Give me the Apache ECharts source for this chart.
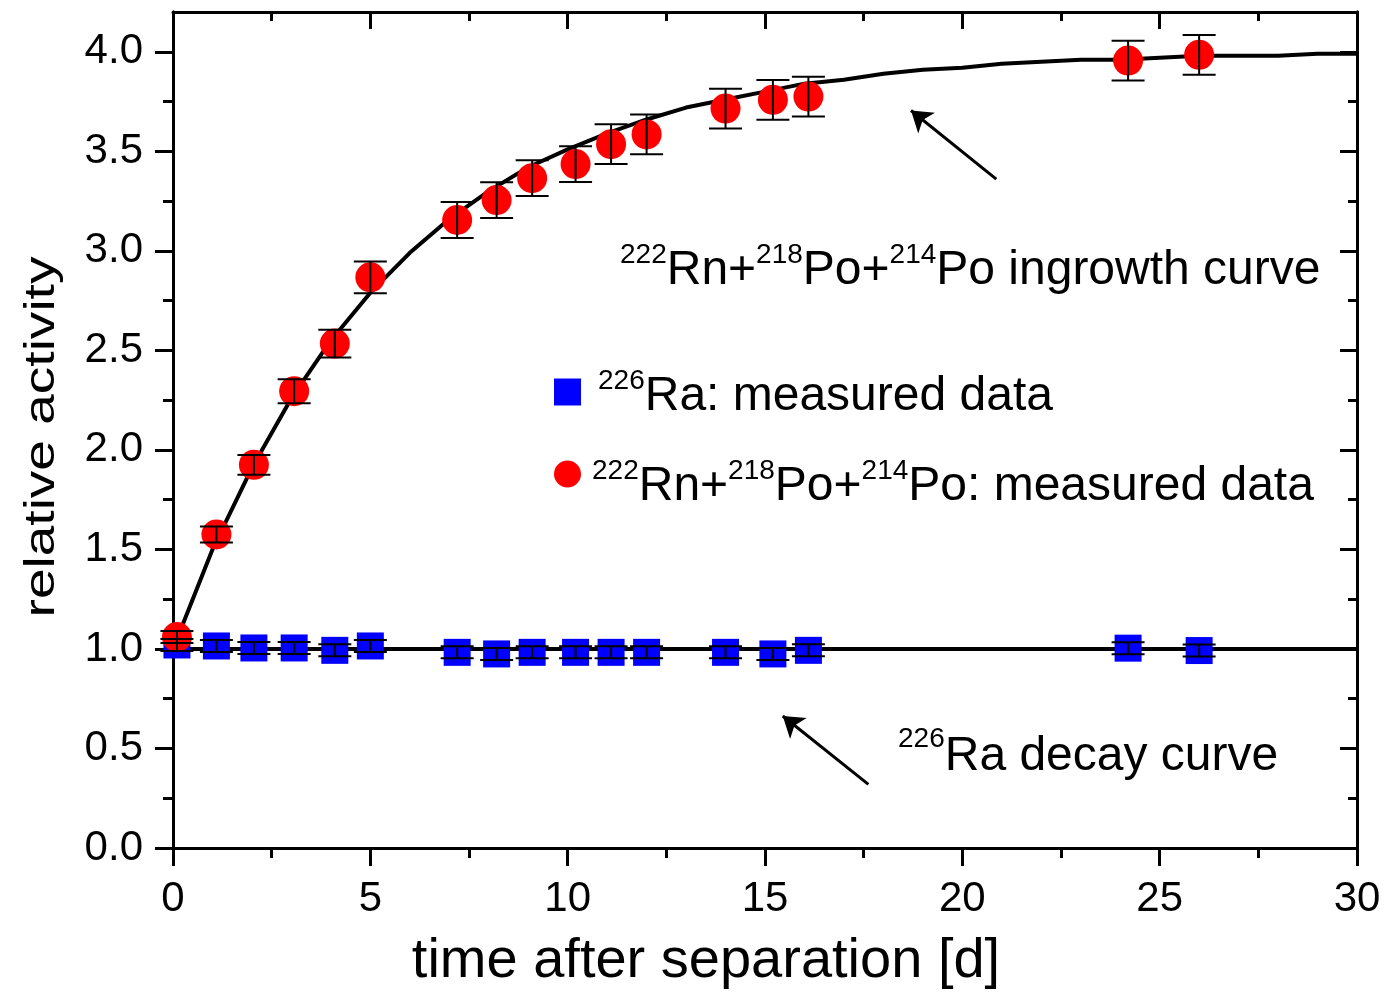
<!DOCTYPE html>
<html><head><meta charset="utf-8">
<script src="https://cdn.jsdelivr.net/npm/echarts@6/dist/echarts.min.js"></script>
<style>html,body{margin:0;padding:0;background:#fff}#c{width:1386px;height:995px}</style>
</head><body><div id="c"></div><script>
// ---- data ----
const times = [0.1, 1.1, 2.05, 3.07, 4.1, 5.0, 7.2, 8.2, 9.1, 10.2, 11.1, 12.0, 14.0, 15.2, 16.1, 24.2, 26.0];
const raValues = [1.02, 1.015, 1.005, 1.005, 0.993, 1.015, 0.983, 0.975, 0.983, 0.983, 0.983, 0.983, 0.983, 0.975, 0.993, 1.004, 0.992];
const raErrors = [0.03, 0.03, 0.03, 0.03, 0.03, 0.03, 0.03, 0.03, 0.03, 0.03, 0.03, 0.03, 0.03, 0.03, 0.03, 0.03, 0.03];
const rnValues = [1.06, 1.575, 1.925, 2.295, 2.534, 2.867, 3.155, 3.255, 3.365, 3.436, 3.536, 3.585, 3.715, 3.759, 3.775, 3.956, 3.985];
const rnErrors = [0.03, 0.04, 0.05, 0.06, 0.07, 0.08, 0.09, 0.09, 0.09, 0.09, 0.10, 0.10, 0.10, 0.10, 0.10, 0.10, 0.10];
const fitTimes = [0,1,2,3,4,5,6,7,8,9,10,11,12,13,14,15,16,17,18,19,20,21,22,23,24,25,26,27,28,29,30];
const ingrowthFit = [1.00,1.50,1.91,2.26,2.55,2.79,2.99,3.16,3.30,3.42,3.51,3.59,3.66,3.72,3.76,3.80,3.84,3.86,3.89,3.91,3.92,3.94,3.95,3.96,3.96,3.97,3.98,3.98,3.98,3.99,3.99];
const decayTimes = [0, 30];
const decayFit = [1.0, 1.0];
const xTickLabels = ['0','5','10','15','20','25','30'];
const yTickLabels = ['0.0','0.5','1.0','1.5','2.0','2.5','3.0','3.5','4.0'];
const yMajorTicks = [0, 0.5, 1, 1.5, 2, 2.5, 3, 3.5, 4];
const yMinorTicks = [0.25, 0.75, 1.25, 1.75, 2.25, 2.75, 3.25, 3.75];
// arrow annotations [from, to] in data units
const arrowIngrowth = [[20.86, 3.36], [18.70, 3.705]];
const arrowDecay = [[17.62, 0.32], [15.45, 0.663]];

const raName = '226Ra: measured data';
const rnName = '222Rn+218Po+214Po: measured data';
const FONT = '"Liberation Sans", Arial, sans-serif';

const chart = echarts.init(document.getElementById('c'), null, {renderer: 'canvas'});

function errorBars(values, errors, name) {
  return {
    type: 'custom', name: name, silent: true, z: 5,
    data: times.map((t, i) => [t, values[i] - errors[i], values[i] + errors[i]]),
    encode: {x: 0, y: [1, 2]},
    renderItem: function (params, api) {
      const x = api.value(0);
      const lo = api.coord([x, api.value(1)]);
      const hi = api.coord([x, api.value(2)]);
      const hw = 16.5;
      const st = {stroke: '#000', lineWidth: 2};
      return {type: 'group', children: [
        {type: 'line', shape: {x1: lo[0], y1: lo[1], x2: hi[0], y2: hi[1]}, style: st},
        {type: 'line', shape: {x1: lo[0] - hw, y1: lo[1], x2: lo[0] + hw, y2: lo[1]}, style: st},
        {type: 'line', shape: {x1: hi[0] - hw, y1: hi[1], x2: hi[0] + hw, y2: hi[1]}, style: st}
      ]};
    }
  };
}

function tickLabel(labels, step) {
  return function (v) {
    const k = v / step;
    if (Math.abs(k - Math.round(k)) > 1e-6) return '';
    return labels[Math.round(k)] || '';
  };
}

function legendRich(supLeft) {
  return {
    m: {fontFamily: FONT, fontSize: 48, lineHeight: 60, color: '#000'},
    sup: {fontFamily: FONT, fontSize: 28, lineHeight: 28, verticalAlign: 'top', color: '#000'},
    sup0: {fontFamily: FONT, fontSize: 28, lineHeight: 28, verticalAlign: 'top', color: '#000', padding: [0, 0, 0, supLeft]}
  };
}
const richMain = {
  m: {fontFamily: FONT, fontSize: 48, lineHeight: 60, color: '#000'},
  sup: {fontFamily: FONT, fontSize: 28, lineHeight: 28, verticalAlign: 'top', color: '#000'}
};
const rich66 = {
  m: {fontFamily: FONT, fontSize: 48, lineHeight: 64, color: '#000'},
  sup: {fontFamily: FONT, fontSize: 28, lineHeight: 28, verticalAlign: 'top', color: '#000'}
};

const axisCommonX = {type: 'value', min: 0, max: 30, interval: 5};
const axisCommonY = {type: 'value', min: 0, max: 4.2, interval: 0.5};
const lineSt = {color: '#000', width: 3};

function yAxisDef(position, inside, values, len, showLabel) {
  return Object.assign({}, axisCommonY, {
    position: position,
    axisLine: {show: true, lineStyle: lineSt, onZero: false},
    axisTick: {show: true, inside: inside, length: len, lineStyle: lineSt, customValues: values},
    minorTick: {show: false},
    axisLabel: showLabel
      ? {show: true, margin: 30, fontFamily: FONT, fontSize: 42, color: '#000',
         customValues: values, formatter: tickLabel(yTickLabels, 0.5)}
      : {show: false},
    splitLine: {show: false}
  });
}

function legendRow(name, icon, text, top, shift, supLeft) {
  return {
    orient: 'vertical', left: 554, top: top, padding: 0,
    itemWidth: 27, itemHeight: 27, selectedMode: false,
    data: [{name: name, icon: icon}],
    formatter: function () { return text; },
    textStyle: {rich: legendRich(supLeft), padding: [shift, 0, 0, 0]}
  };
}

const option = {
  animation: false,
  backgroundColor: '#fff',
  grid: {left: 173, right: 29, top: 12, bottom: 147, containLabel: false},
  xAxis: [
    Object.assign({}, axisCommonX, {
      position: 'bottom',
      name: 'time after separation [d]', nameLocation: 'middle', nameGap: 86,
      nameTextStyle: {fontFamily: FONT, fontSize: 56, color: '#000', padding: [0, 118, 0, 0]},
      axisLine: {lineStyle: lineSt, onZero: false},
      axisTick: {inside: false, length: 18, lineStyle: lineSt},
      minorTick: {show: true, splitNumber: 2, length: 10, lineStyle: lineSt},
      axisLabel: {margin: 30, fontFamily: FONT, fontSize: 42, color: '#000',
        formatter: tickLabel(xTickLabels, 5)},
      splitLine: {show: false}
    }),
    Object.assign({}, axisCommonX, {
      position: 'top',
      axisLine: {lineStyle: lineSt, onZero: false},
      axisTick: {inside: true, length: 17, lineStyle: lineSt},
      minorTick: {show: true, splitNumber: 2, length: 9, lineStyle: lineSt},
      axisLabel: {show: false},
      splitLine: {show: false}
    })
  ],
  yAxis: [
    yAxisDef('left', false, yMajorTicks, 18, true),
    yAxisDef('right', true, yMajorTicks, 17, false),
    yAxisDef('left', false, yMinorTicks, 10, false),
    yAxisDef('right', true, yMinorTicks, 9, false)
  ],
  legend: [
    legendRow(raName, 'rect', '{sup0|226}{m|Ra: measured data}', 367, 10, 12),
    legendRow(rnName, 'circle', '{sup0|222}{m|Rn+}{sup|218}{m|Po+}{sup|214}{m|Po: measured data}', 457, 26, 6)
  ],
  graphic: [
    {type: 'text', x: 620, y: 241, silent: true,
      style: {text: '{sup|222}{m|Rn+}{sup|218}{m|Po+}{sup|214}{m|Po ingrowth curve}',
        rich: richMain, align: 'left', verticalAlign: 'top'}},
    {type: 'text', x: 898, y: 725, silent: true,
      style: {text: '{sup|226}{m|Ra decay curve}', rich: rich66, align: 'left', verticalAlign: 'top'}},
    {type: 'text', x: 42, y: 437, rotation: Math.PI / 2, scaleX: 1.31, silent: true,
      style: {text: 'relative activity', fontFamily: FONT, fontSize: 42, fill: '#000',
        align: 'center', verticalAlign: 'middle'}}
  ],
  series: [
    {type: 'line', name: 'ingrowth fit', data: fitTimes.map((t, i) => [t, ingrowthFit[i]]),
      showSymbol: false, symbol: 'none', lineStyle: {color: '#000', width: 4}, z: 1, silent: true,
      markLine: {silent: true, symbol: ['none', 'arrow'], symbolSize: 20,
        lineStyle: {color: '#000', width: 3, type: 'solid'}, label: {show: false},
        data: [[{coord: arrowIngrowth[0]}, {coord: arrowIngrowth[1]}]]}},
    {type: 'line', name: 'decay fit', data: decayTimes.map((t, i) => [t, decayFit[i]]),
      showSymbol: false, symbol: 'none', lineStyle: {color: '#000', width: 4}, z: 1, silent: true,
      markLine: {silent: true, symbol: ['none', 'arrow'], symbolSize: 20,
        lineStyle: {color: '#000', width: 3, type: 'solid'}, label: {show: false},
        data: [[{coord: arrowDecay[0]}, {coord: arrowDecay[1]}]]}},
    {type: 'scatter', name: raName, symbol: 'rect', symbolSize: 27, z: 2,
      itemStyle: {color: '#0000ff', opacity: 1},
      data: times.map((t, i) => [t, raValues[i]])},
    {type: 'scatter', name: rnName, symbol: 'circle', symbolSize: 30, z: 3,
      itemStyle: {color: '#ff0000', opacity: 1},
      data: times.map((t, i) => [t, rnValues[i]])},
    errorBars(raValues, raErrors, 'ra err'),
    errorBars(rnValues, rnErrors, 'rn err')
  ]
};
chart.setOption(option);
</script></body></html>
